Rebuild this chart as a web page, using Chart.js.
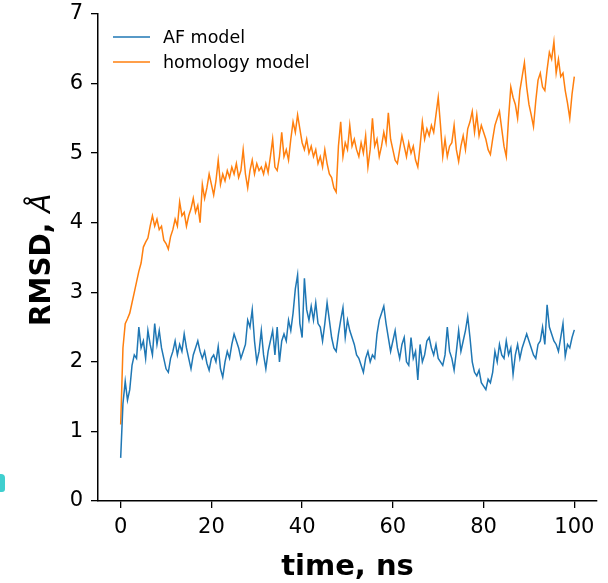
<!DOCTYPE html>
<html><head><meta charset="utf-8">
<script src="https://cdn.jsdelivr.net/npm/chart.js@4.4.0/dist/chart.umd.min.js"></script>
<style>
html,body{margin:0;padding:0;background:#fff;}
#wrap{position:relative;width:608px;height:583px;}
#blob{position:absolute;left:0;top:474px;width:5px;height:18px;background:#3fcfcf;border-radius:0 4px 3px 0;}
</style>
</head><body>
<div id="wrap"><canvas id="c" width="608" height="583"></canvas><div id="blob"></div></div>
<script>
const seriesLabels = ["AF model", "homology model"];
const xTitle = "time, ns";
const yTitleMain = "RMSD, ";
const yTitleUnit = "Å";
const xTicks = [0, 20, 40, 60, 80, 100];
const yTicks = [0, 1, 2, 3, 4, 5, 6, 7];

const timeNs = [0,0.5,1,1.5,2,2.5,3,3.5,4,4.5,5,5.5,6,6.5,7,7.5,8,8.5,9,9.5,
10,10.5,11,11.5,12,12.5,13,13.5,14,14.5,15,15.5,16,16.5,17,17.5,18,18.5,19,19.5,
20,20.5,21,21.5,22,22.5,23,23.5,24,24.5,25,25.5,26,26.5,27,27.5,28,28.5,29,29.5,
30,30.5,31,31.5,32,32.5,33,33.5,34,34.5,35,35.5,36,36.5,37,37.5,38,38.5,39,39.5,
40,40.5,41,41.5,42,42.5,43,43.5,44,44.5,45,45.5,46,46.5,47,47.5,48,48.5,49,49.5,
50,50.5,51,51.5,52,52.5,53,53.5,54,54.5,55,55.5,56,56.5,57,57.5,58,58.5,59,59.5,
60,60.5,61,61.5,62,62.5,63,63.5,64,64.5,65,65.5,66,66.5,67,67.5,68,68.5,69,69.5,
70,70.5,71,71.5,72,72.5,73,73.5,74,74.5,75,75.5,76,76.5,77,77.5,78,78.5,79,79.5,
80,80.5,81,81.5,82,82.5,83,83.5,84,84.5,85,85.5,86,86.5,87,87.5,88,88.5,89,89.5,
90,90.5,91,91.5,92,92.5,93,93.5,94,94.5,95,95.5,96,96.5,97,97.5,98,98.5,99,99.5,100];

const afModel = [0.62,1.40,1.72,1.45,1.60,1.95,2.10,2.05,2.50,2.20,2.30,2.05,2.45,2.25,2.10,2.55,2.25,2.45,2.20,2.05,
1.90,1.85,2.05,2.15,2.30,2.10,2.25,2.15,2.40,2.20,2.05,1.90,2.10,2.20,2.30,2.15,2.05,2.15,1.98,1.88,
2.05,2.10,2.00,2.22,1.90,1.78,2.00,2.15,2.05,2.25,2.40,2.30,2.20,2.05,2.15,2.25,2.60,2.50,2.75,2.30,
2.00,2.15,2.45,2.10,1.90,2.15,2.30,2.45,2.10,2.50,2.00,2.30,2.40,2.30,2.60,2.45,2.70,3.05,3.25,2.55,
2.35,3.20,2.75,2.60,2.80,2.60,2.85,2.55,2.50,2.30,2.55,2.85,2.60,2.35,2.20,2.15,2.40,2.60,2.78,2.35,
2.60,2.45,2.35,2.25,2.10,2.05,1.95,1.85,2.05,2.15,2.00,2.10,2.05,2.40,2.60,2.70,2.80,2.55,2.35,2.15,
2.30,2.45,2.20,2.05,2.25,2.35,2.00,1.95,2.35,2.05,2.15,1.74,2.25,2.00,2.10,2.30,2.35,2.20,2.10,2.25,
2.05,2.00,1.95,2.10,2.50,2.15,2.05,1.88,2.15,2.45,2.15,2.30,2.45,2.65,2.35,2.00,1.85,1.80,1.88,1.70,
1.65,1.60,1.75,1.70,1.85,2.15,2.00,2.25,2.10,2.05,2.30,2.10,2.20,1.82,2.10,2.25,2.05,2.20,2.30,2.40,
2.30,2.20,2.10,2.05,2.25,2.30,2.50,2.25,2.82,2.50,2.40,2.30,2.25,2.15,2.35,2.55,2.08,2.25,2.20,2.35,2.46];

const homologyModel = [1.10,2.20,2.55,2.62,2.70,2.85,3.00,3.15,3.30,3.42,3.65,3.72,3.78,3.95,4.10,3.95,4.05,3.90,3.95,3.75,
3.70,3.62,3.80,3.90,4.05,3.95,4.30,4.10,4.15,3.95,4.10,4.20,4.35,4.15,4.25,4.00,4.55,4.35,4.50,4.70,
4.55,4.40,4.60,4.90,4.55,4.70,4.60,4.75,4.65,4.80,4.70,4.85,4.65,4.75,5.05,4.70,4.50,4.75,4.90,4.70,
4.85,4.75,4.80,4.70,4.85,4.72,4.95,5.20,4.80,4.75,4.95,5.30,4.95,5.05,4.90,5.20,5.45,5.30,5.55,5.35,
5.15,5.05,5.20,5.00,5.10,4.95,5.05,4.85,4.95,4.80,5.05,4.85,4.70,4.65,4.50,4.44,5.10,5.45,4.95,5.15,
5.05,5.40,5.10,5.20,5.05,4.95,5.15,5.00,5.25,4.80,5.05,5.50,5.10,5.20,4.95,5.10,5.30,5.15,5.58,5.20,
5.05,4.90,4.85,5.05,5.25,5.10,4.95,5.15,5.00,5.10,4.90,4.80,5.10,5.45,5.20,5.35,5.25,5.40,5.30,5.55,
5.80,5.40,4.95,5.20,4.95,5.10,5.15,5.40,5.05,4.88,5.10,5.25,5.05,5.35,5.45,5.60,5.30,5.55,5.25,5.40,
5.30,5.20,5.05,4.98,5.20,5.40,5.50,5.60,5.35,5.10,4.95,5.50,5.95,5.80,5.70,5.50,5.90,6.10,6.30,5.95,
5.70,5.55,5.38,5.75,6.05,6.15,5.95,5.90,6.20,6.45,6.35,6.60,6.15,6.35,6.10,6.15,5.90,5.72,5.50,5.85,6.10];

const FONT = '"DejaVu Sans"';
const seriesColors = ["#1f77b4", "#ff7f0e"];

const decor = {
  id: 'decor',
  afterDraw(chart) {
    const ctx = chart.ctx, ca = chart.chartArea;
    ctx.save();
    chart.data.datasets.forEach((ds, i) => {
      const y = 37 + i * 25;
      ctx.strokeStyle = ds.borderColor;
      ctx.lineWidth = 1.5;
      ctx.beginPath(); ctx.moveTo(ca.left + 15, y); ctx.lineTo(ca.left + 52, y); ctx.stroke();
      ctx.fillStyle = '#000';
      ctx.font = '17.5px ' + FONT;
      ctx.textAlign = 'left'; ctx.textBaseline = 'alphabetic';
      ctx.fillText(ds.label, ca.left + 65, y + 6);
    });
    ctx.fillStyle = '#000';
    ctx.font = 'bold 29px ' + FONT;
    ctx.textAlign = 'center'; ctx.textBaseline = 'alphabetic';
    ctx.fillText(xTitle, (ca.left + ca.right) / 2, 575);
    ctx.translate(50, 326);
    ctx.rotate(-Math.PI / 2);
    ctx.textAlign = 'left';
    ctx.font = 'bold 28px ' + FONT;
    ctx.fillText(yTitleMain, 0, 0);
    const w = ctx.measureText(yTitleMain).width;
    ctx.font = 'italic 28px ' + FONT;
    ctx.fillText(yTitleUnit, w, 0);
    ctx.restore();
  }
};

new Chart(document.getElementById('c'), {
  type: 'line',
  data: {
    datasets: [
      { label: seriesLabels[0], data: timeNs.map((t, i) => ({x: t, y: afModel[i]})),
        borderColor: seriesColors[0], borderWidth: 1.5, pointRadius: 0, tension: 0, fill: false },
      { label: seriesLabels[1], data: timeNs.map((t, i) => ({x: t, y: homologyModel[i]})),
        borderColor: seriesColors[1], borderWidth: 1.5, pointRadius: 0, tension: 0, fill: false }
    ]
  },
  options: {
    responsive: false,
    animation: false,
    events: [],
    layout: { padding: { top: 14, right: 11, left: 0, bottom: 0 } },
    plugins: { legend: { display: false }, tooltip: { enabled: false } },
    scales: {
      x: {
        type: 'linear', min: -5, max: 105,
        afterBuildTicks: s => { s.ticks = xTicks.map(v => ({value: v})); },
        afterFit: s => { s.height = 82; s.paddingLeft = 0; s.paddingRight = 0; },
        grid: { display: true, drawOnChartArea: false, drawTicks: true, tickLength: 7, color: '#000', lineWidth: 1.3 },
        border: { display: true, color: '#000', width: 1.5 },
        ticks: { font: { family: FONT, size: 21 }, color: '#000', padding: 7, maxRotation: 0, autoSkip: false }
      },
      y: {
        type: 'linear', min: 0, max: 7,
        afterBuildTicks: s => { s.ticks = yTicks.map(v => ({value: v})); },
        afterFit: s => { s.width = 98; s.paddingTop = 0; s.paddingBottom = 0; },
        grid: { display: true, drawOnChartArea: false, drawTicks: true, tickLength: 7, color: '#000', lineWidth: 1.3 },
        border: { display: true, color: '#000', width: 1.5 },
        ticks: { font: { family: FONT, size: 21 }, color: '#000', padding: 8, autoSkip: false }
      }
    }
  },
  plugins: [decor]
});
</script>
</body></html>
